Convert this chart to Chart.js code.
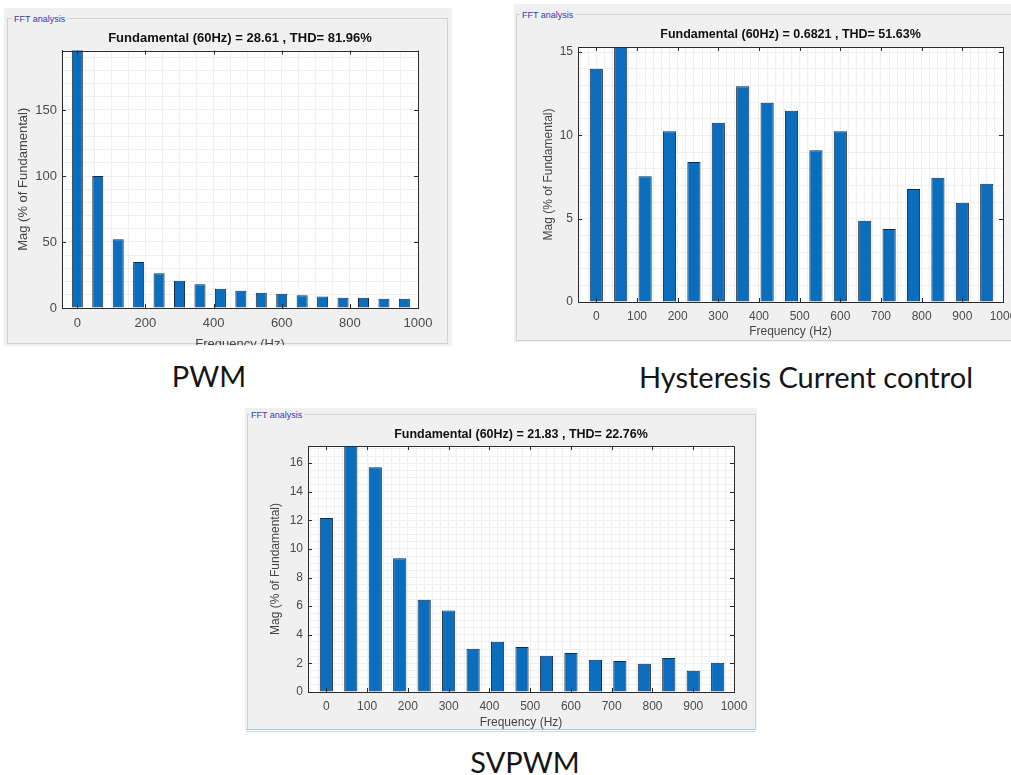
<!DOCTYPE html>
<html lang="en">

<head>
    <meta charset="UTF-8">
    <title>FFT analysis</title>
    <style>
        html, body {
            margin: 0;
            padding: 0;
            width: 1011px;
            height: 775px;
            overflow: hidden;
            background: #ffffff;
            font-family: "Liberation Sans", Arial, sans-serif;
        }

        .panel {
            position: absolute;
            background: #f0f0f0;
        }

        .frame {
            position: absolute;
            border: 1px solid #d2d2d2;
        }

        .label {
            position: absolute;
            font-size: 9px;
            line-height: 10px;
            color: #3a3aa8;
            background: #f0f0f0;
            padding: 0 2px;
        }

        .wrap {
            position: absolute;
            overflow: hidden;
        }

        .caption {
            position: absolute;
            font-family: Lato, "Open Sans", sans-serif;
            font-size: 29px;
            color: #151515;
            white-space: nowrap;
            transform: translate(-50%, -50%);
        }
    </style>
</head>

<body>
    <!-- PWM -->
    <div class="panel" style="left:4px; top:8px; width:448px; height:338px;"></div>
    <div class="frame" style="left:7px; top:18px; width:439px; height:324px;"></div>
    <div class="label" style="left:12px; top:14px;">FFT analysis</div>
    <div class="wrap" style="left:8px; top:22px; width:442px; height:323px;">
        <canvas id="pwmChart" width="442" height="334"></canvas>
    </div>

    <!-- Hysteresis -->
    <div class="panel" style="left:514px; top:4px; width:497px; height:338px;"></div>
    <div class="frame" style="left:516px; top:14px; width:500px; height:325px;"></div>
    <div class="label" style="left:520px; top:10px;">FFT analysis</div>
    <div class="wrap" style="left:515px; top:22px; width:525px; height:316px;">
        <canvas id="hccChart" width="525" height="321"></canvas>
    </div>

    <!-- SVPWM -->
    <div class="panel" style="left:245px; top:408px; width:512px; height:322px;"></div>
    <div class="frame" style="left:247px; top:414px; width:507px; height:314px;"></div>
    <div class="label" style="left:249px; top:410px;">FFT analysis</div>
    <div class="wrap" style="left:247px; top:422px; width:508px; height:307px;">
        <canvas id="svpwmChart" width="508" height="312"></canvas>
    </div>
    <div style="position:absolute; left:246px; top:729px; width:510px; height:1px; background:#a8c6e6;"></div>
    <div style="position:absolute; left:246px; top:731px; width:510px; height:1px; background:#c9dcf0;"></div>

    <div class="caption" style="left:209px; top:375px;">PWM</div>
    <div class="caption" style="left:806px; top:376px;">Hysteresis Current control</div>
    <div class="caption" style="left:525px; top:761px;">SVPWM</div>

    <script src="https://cdn.jsdelivr.net/npm/chart.js"></script>
    <script>
        // Harmonic frequencies (Hz) of the bars
        const freqs = [0, 60, 120, 180, 240, 300, 360, 420, 480, 540, 600, 660, 720, 780, 840, 900, 960];

        // Magnitudes (% of fundamental); clipped bars are estimates
        const pwmMag = [220, 100, 52, 34.8, 26.3, 20.7, 17.9, 14.6, 13.1, 11.6, 10.8, 9.6, 8.8, 7.8, 7.8, 7.0, 7.0];
        const hccMag = [14.0, 100, 7.54, 10.24, 8.4, 10.76, 12.94, 11.96, 11.48, 9.1, 10.24, 4.88, 4.38, 6.78, 7.46, 5.96, 7.1];
        const svpwmMag = [12.16, 100, 15.72, 9.36, 6.45, 5.7, 3.03, 3.51, 3.14, 2.54, 2.72, 2.26, 2.17, 1.98, 2.38, 1.49, 2.05];

        // Titles
        const pwmTitle = 'Fundamental (60Hz) = 28.61 , THD= 81.96%';
        const hccTitle = 'Fundamental (60Hz) = 0.6821 , THD= 51.63%';
        const svpwmTitle = 'Fundamental (60Hz) = 21.83 , THD= 22.76%';

        const axisColor = '#2b2b2b';

        // white plot background + box + inward tick marks, like matlab axes
        const matlabBox = {
            id: 'matlabBox',
            beforeDraw(chart) {
                const a = chart.chartArea;
                const ctx = chart.ctx;
                ctx.save();
                ctx.fillStyle = '#ffffff';
                ctx.fillRect(a.left, a.top, a.right - a.left, a.bottom - a.top);
                ctx.restore();
            },
            afterDraw(chart) {
                const a = chart.chartArea;
                const ctx = chart.ctx;
                ctx.save();
                ctx.strokeStyle = axisColor;
                ctx.lineWidth = 1;
                ctx.strokeRect(Math.round(a.left) + 0.5, Math.round(a.top) + 0.5,
                    Math.round(a.right - a.left), Math.round(a.bottom - a.top));
                ctx.beginPath();
                chart.scales.x.ticks.forEach(t => {
                    const px = Math.round(chart.scales.x.getPixelForValue(t.value)) + 0.5;
                    ctx.moveTo(px, a.bottom); ctx.lineTo(px, a.bottom - 4);
                    ctx.moveTo(px, a.top); ctx.lineTo(px, a.top + 4);
                });
                chart.scales.y.ticks.forEach(t => {
                    const py = Math.round(chart.scales.y.getPixelForValue(t.value)) + 0.5;
                    ctx.moveTo(a.left, py); ctx.lineTo(a.left + 4, py);
                    ctx.moveTo(a.right, py); ctx.lineTo(a.right - 4, py);
                });
                ctx.stroke();
                ctx.restore();
            }
        };

        function makeChart(id, values, title, s) {
            const ctx = document.getElementById(id).getContext('2d');
            return new Chart(ctx, {
                type: 'bar',
                data: {
                    datasets: [{
                        data: freqs.map((f, i) => ({ x: f, y: values[i] })),
                        backgroundColor: '#0b6dbd',
                        borderColor: '#1b2836',
                        borderWidth: 1,
                        categoryPercentage: 1,
                        barPercentage: 0.54,
                        xAxisID: 'x',
                        yAxisID: 'y'
                    }]
                },
                options: {
                    responsive: false,
                    animation: false,
                    layout: { padding: s.padding },
                    plugins: {
                        legend: { display: false },
                        tooltip: { enabled: false },
                        title: {
                            display: true,
                            text: title,
                            fullSize: false,
                            color: '#111111',
                            font: { family: 'Liberation Sans', size: s.titleSize, weight: 'bold' },
                            padding: s.titlePad
                        }
                    },
                    scales: {
                        x: {
                            type: 'linear',
                            position: 'bottom',
                            min: -45,
                            max: 1000,
                            offset: false,
                            afterFit: sc => { sc.height = s.xHeight; },
                            ticks: {
                                stepSize: s.xStep,
                                includeBounds: false,
                                autoSkip: false,
                                maxRotation: 0,
                                padding: s.xTickPad,
                                color: '#4a4a4a',
                                font: { family: 'Liberation Sans', size: s.tickSize },
                                callback: v => String(v)
                            },
                            grid: { color: '#d9d9d9', drawTicks: false, offset: false },
                            border: { color: axisColor },
                            title: {
                                display: true,
                                text: 'Frequency (Hz)',
                                color: '#444444',
                                font: { family: 'Liberation Sans', size: s.axisTitleSize }
                            }
                        },
                        xg: {
                            type: 'linear',
                            position: 'bottom',
                            min: -45,
                            max: 1000,
                            offset: false,
                            afterFit: sc => { sc.height = 0; },
                            ticks: { display: false, stepSize: s.xMinor, includeBounds: false },
                            grid: { color: '#efefef', drawTicks: false, offset: false },
                            border: { display: false }
                        },
                        y: {
                            min: 0,
                            max: s.yMax,
                            afterFit: sc => { sc.width = s.yWidth; },
                            ticks: {
                                stepSize: s.yStep,
                                includeBounds: false,
                                padding: 5,
                                color: '#4a4a4a',
                                font: { family: 'Liberation Sans', size: s.tickSize }
                            },
                            grid: { color: '#d9d9d9', drawTicks: false },
                            border: { color: axisColor },
                            title: {
                                display: true,
                                text: 'Mag (% of Fundamental)',
                                color: '#444444',
                                font: { family: 'Liberation Sans', size: s.axisTitleSize }
                            }
                        },
                        yg: {
                            min: 0,
                            max: s.yMax,
                            position: 'left',
                            afterFit: sc => { sc.width = 0; },
                            ticks: { display: false, stepSize: s.yMinor, includeBounds: false },
                            grid: { color: '#efefef', drawTicks: false },
                            border: { display: false }
                        }
                    }
                },
                plugins: [matlabBox]
            });
        }

        makeChart('pwmChart', pwmMag, pwmTitle, {
            padding: { left: 4, right: 32, top: 0, bottom: 0 },
            titleSize: 13, titlePad: { top: 9, bottom: 4 },
            tickSize: 13, axisTitleSize: 13,
            xHeight: 48, xTickPad: 8, xStep: 200, xMinor: 50,
            yWidth: 50, yMax: 195, yStep: 50, yMinor: 10
        });

        makeChart('hccChart', hccMag, hccTitle, {
            padding: { left: 22, right: 37, top: 0, bottom: 0 },
            titleSize: 12.5, titlePad: { top: 5.5, bottom: 4.5 },
            tickSize: 12, axisTitleSize: 12,
            xHeight: 41, xTickPad: 7, xStep: 100, xMinor: 20,
            yWidth: 41, yMax: 15.3, yStep: 5, yMinor: 1
        });

        makeChart('svpwmChart', svpwmMag, svpwmTitle, {
            padding: { left: 17, right: 21, top: 0, bottom: 0 },
            titleSize: 12.5, titlePad: { top: 5.5, bottom: 3.5 },
            tickSize: 12, axisTitleSize: 12,
            xHeight: 42, xTickPad: 7, xStep: 100, xMinor: 20,
            yWidth: 44, yMax: 17.2, yStep: 2, yMinor: 0.5
        });
    </script>
</body>

</html>
